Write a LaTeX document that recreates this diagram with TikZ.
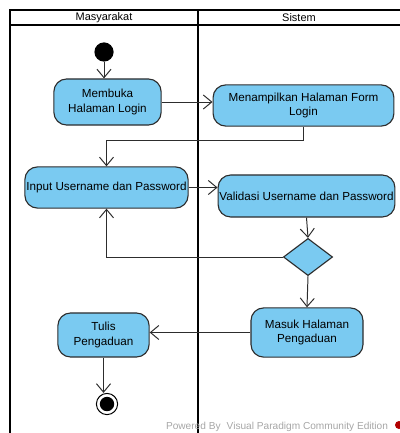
\documentclass[tikz,border=0pt]{standalone}
\usepackage{fontspec}
\setmainfont{Liberation Sans}
\usetikzlibrary{calc}
\usetikzlibrary{arrows.meta}
\usetikzlibrary{shapes.geometric}

\definecolor{actblue}{RGB}{122,202,241}
\definecolor{edgegray}{RGB}{45,45,45}

\begin{document}
\begin{tikzpicture}[x=0.025cm, y=-0.025cm,
  act/.style={draw=edgegray, line width=0.8pt, fill=actblue, rounded corners=9pt, align=center,
    inner sep=0pt, font=\fontsize{8.3}{10.6}\selectfont},
  lane/.style={line width=1.4pt},
  flow/.style={draw=edgegray, line width=0.7pt, -{Straight Barb[length=6pt, width=10pt]}},
  choice/.style={diamond, draw=edgegray, line width=0.8pt, fill=actblue, inner sep=0pt}]
\useasboundingbox (0,0) rectangle (400,433);

% swimlanes
\draw[lane] (400,10) -- (10,10) -- (10,433);
\draw[lane] (10,25) -- (400,25);
\draw[lane] (198,10) -- (198,433);
\node[font=\fontsize{7.8}{9}\selectfont] (masy) at (104,17.5) {Masyarakat};
\node[font=\fontsize{7.8}{9}\selectfont] (sis) at (299,17.5) {Sistem};

% activities
\node[circle, fill=black, inner sep=0pt, minimum size=0.48cm] (start) at (104,52) {};
\node[act, minimum width=2.68cm, minimum height=1.15cm] (login) at (107.5,102) {Membuka\\Halaman Login};
\node[act, minimum width=4.52cm, minimum height=1.03cm] (form) at (303.5,105.5) {Menampilkan Halaman Form\\Login};
\node[act, minimum width=4.08cm, minimum height=1.03cm] (input) at (106.5,187.5) {Input Username dan Password};
\node[act, minimum width=4.42cm, minimum height=1.05cm] (valid) at (306.5,196) {Validasi Username dan Password};
\node[choice, minimum width=1.23cm, minimum height=0.93cm] (cek) at (308,257) {};
\node[act, minimum width=2.8cm, minimum height=1.23cm] (masuk) at (307,332.5) {Masuk Halaman\\Pengaduan};
\node[act, minimum width=2.28cm, minimum height=1.1cm] (tulis) at (103.5,335) {Tulis\\Pengaduan};
\node[circle, draw=black, line width=0.7pt, minimum size=0.53cm, inner sep=0pt] (stop) at (107,404) {};
\fill[black] (stop.center) circle (0.18cm);

% flows
\draw[flow] (start) -- (start |- login.north);
\draw[flow] (login.east) -- (login.east -| form.west);
\draw[flow] (form.south) -- ++(0,14) -| (input.north);
\draw[flow] (input.east) -- (input.east -| valid.west);
\draw[flow] (valid.south) -- (cek.north);
\draw[flow] (cek.west) -| (input.south);
\draw[flow] (cek.south) -- (masuk.north);
\draw[flow] (masuk.west) -- (masuk.west -| tulis.east);
\draw[flow] (tulis.south) -- (tulis.south |- stop.north);

\node[anchor=east, text=black!35, font=\fontsize{7.2}{8}\selectfont] (wm) at (393,427) {Powered By\hspace{0.6em}Visual Paradigm Community Edition};
\fill[red!70!black] (399,425) circle (4);
\end{tikzpicture}
\end{document}
